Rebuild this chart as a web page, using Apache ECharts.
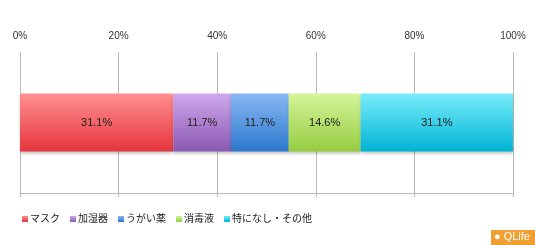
<!DOCTYPE html>
<html><head><meta charset="utf-8">
<script src="https://cdn.jsdelivr.net/npm/echarts@6/dist/echarts.min.js"></script>
<style>html,body{margin:0;padding:0;background:#fff}#c{width:535px;height:245px}</style>
</head><body><div id="c"></div>
<script>
const categories = ['回答'];
const seriesNames = ['マスク', '加湿器', 'うがい薬', '消毒液', '特になし・その他'];
const seriesValues = [31.1, 11.7, 11.7, 14.6, 31.1];
const tickLabels = ['0%', '20%', '40%', '60%', '80%', '100%'];
const topColors = ['#ff9090', '#cfa8ec', '#88b8f4', '#d4f49a', '#78ecfa'];
const bottomColors = ['#e6353c', '#8a58b2', '#2c78cc', '#96cc40', '#00b4d4'];

const chart = echarts.init(document.getElementById('c'), null, {renderer: 'canvas'});
const font = '"Liberation Sans", "Noto Sans CJK JP", sans-serif';
chart.setOption({
  animation: false,
  grid: {left: 20, right: 22, top: 52, bottom: 52},
  xAxis: [{
    type: 'value', min: 0, max: 100, interval: 20, position: 'top',
    axisLine: {show: false}, axisTick: {show: false},
    axisLabel: {margin: 11, fontSize: 10, color: '#333', fontFamily: font,
      formatter: v => tickLabels[Math.round(v / 20)]},
    splitLine: {show: true, lineStyle: {color: '#b8b8b8', width: 1}}
  }, {
    type: 'value', min: 0, max: 100, interval: 20, position: 'bottom',
    axisLine: {show: true, lineStyle: {color: '#b8b8b8'}},
    axisTick: {show: true, length: 4, lineStyle: {color: '#b8b8b8'}},
    axisLabel: {show: false}, splitLine: {show: false}
  }],
  yAxis: {type: 'category', data: categories, show: false},
  legend: {
    left: 22, top: 214, padding: 0, itemWidth: 6, itemHeight: 6, itemGap: 10,
    icon: 'rect',
    textStyle: {fontSize: 10, color: '#222', fontFamily: font, padding: [0, 0, 0, -3]},
    data: seriesNames
  },
  series: seriesNames.map((name, i) => ({
    name, type: 'bar', stack: 'all', barWidth: 58,
    data: [seriesValues[i]],
    itemStyle: {
      color: {type: 'linear', x: 0, y: 0, x2: 0, y2: 1,
        colorStops: [{offset: 0, color: topColors[i]}, {offset: 1, color: bottomColors[i]}]},
      shadowColor: 'rgba(0,0,0,0.25)', shadowBlur: 3, shadowOffsetY: 2
    },
    label: {show: true, position: 'inside', fontSize: 11, color: '#222', fontFamily: font,
      formatter: p => p.value.toFixed(1) + '%'}
  })),
  graphic: [{
    type: 'group', right: 0, bottom: 0,
    children: [
      {type: 'rect', shape: {x: 0, y: 0, width: 44, height: 15}, style: {fill: '#f0a030'}},
      {type: 'text', x: 3, y: 1, style: {text: '● QLife', fill: '#fff', fontSize: 11, fontFamily: font}}
    ]
  }]
});
</script></body></html>
